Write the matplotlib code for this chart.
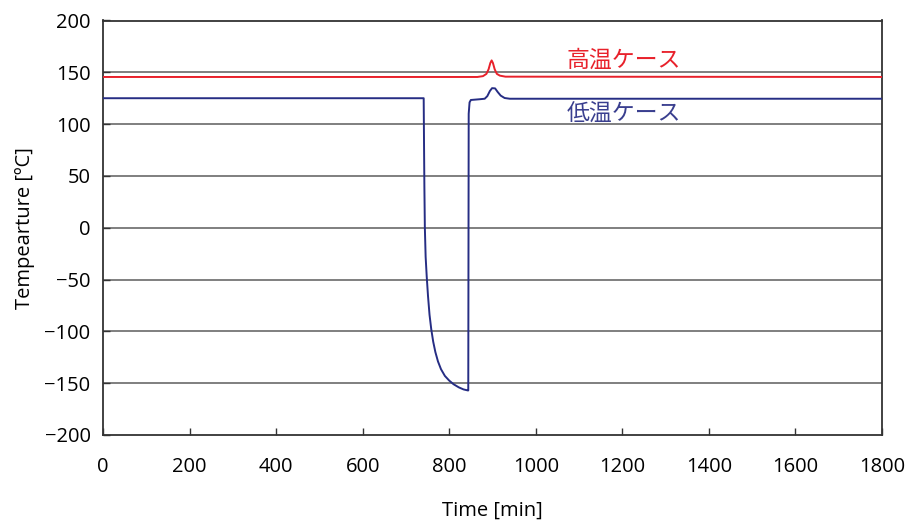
import matplotlib
matplotlib.use("Agg")
import matplotlib.pyplot as plt

# ---- data ----
high_t = [0, 865, 878, 886, 891, 895, 898, 901, 905, 910, 917, 930, 1800]
high_T = [145.5, 145.5, 146.3, 148.5, 153, 159, 161.5, 159, 153, 148.5, 146.8, 145.8, 145.5]

low_t = [0, 741, 741.8, 742.6, 743.7, 745.5, 748, 751, 754.5, 758.5, 763, 768, 774, 781, 790, 800, 810, 822, 833,
         843, 844, 845, 847, 850, 870, 882, 888, 894, 899, 906, 912, 919, 928, 940, 1800]
low_T = [125, 125, 80, 40, 0, -28, -47, -66, -84, -98, -110, -120, -129, -136.5, -143, -147.5, -151, -154, -156,
         -157, -157, 110, 121, 123.3, 124, 124.5, 127, 132, 134.7, 134.5, 131, 127.5, 125.2, 124.5, 124.5]

high_label = "高温ケース"
low_label = "低温ケース"
x_ticks = [0, 200, 400, 600, 800, 1000, 1200, 1400, 1600, 1800]
y_ticks = [-200, -150, -100, -50, 0, 50, 100, 150, 200]

plt.rcParams['font.family'] = ['Open Sans', 'Noto Sans CJK JP', 'DejaVu Sans']

fig = plt.figure(figsize=(9.11, 5.2), dpi=100)
ax = fig.add_axes([103/911, 1-435/520, (882-103)/911, (435-20.5)/520])

for y in y_ticks[1:-1]:
    ax.axhline(y, color='#7f7f7f', lw=1.4, zorder=1)

ax.plot(high_t, high_T, color='#e8212b', lw=1.4, zorder=3)
ax.plot(low_t, low_T, color='#262d84', lw=1.4, zorder=3)

ax.text(1072, 162, high_label, color='#e8212b', fontsize=16.5,
        family=['Noto Sans CJK JP', 'DejaVu Sans'], va='center', ha='left')
ax.text(1072, 110, low_label, color='#3a3f8f', fontsize=16.5,
        family=['Noto Sans CJK JP', 'DejaVu Sans'], va='center', ha='left')

ax.set_xlim(0, 1800)
ax.set_ylim(-200, 200)
ax.set_xticks(x_ticks)
ax.set_yticks(y_ticks)
ax.tick_params(axis='x', direction='in', length=5, width=1, pad=16, labelsize=14.5, color='#333333')
ax.tick_params(axis='y', direction='in', length=5, width=1, pad=9, labelsize=14.5, color='#333333')
for s in ax.spines.values():
    s.set_color('#333333')
    s.set_linewidth(1.3)

ax.set_xlabel("Time [min]", fontsize=14.5, labelpad=17)
ax.set_ylabel("Tempearture [ºC]", fontsize=14.5, labelpad=7)

fig.savefig("out.png", dpi=100)
